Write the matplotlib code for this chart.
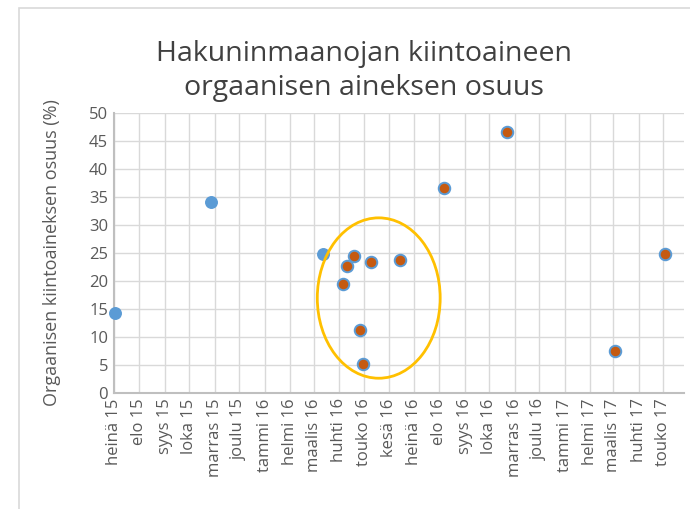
import matplotlib
matplotlib.use("Agg")
import matplotlib.pyplot as plt
import matplotlib.dates as mdates
from matplotlib.patches import Ellipse, Rectangle
import numpy as np
import datetime as dt

# --- data ---
blue_dates = ["2015-07-02", "2015-10-28", "2016-03-12"]
blue_values = [14.2, 34.1, 24.9]

orange_dates = ["2016-04-05", "2016-04-10", "2016-04-19", "2016-04-26", "2016-04-30",
                "2016-05-10", "2016-06-14", "2016-08-07", "2016-10-23", "2017-03-03",
                "2017-05-03"]
orange_values = [19.4, 22.7, 24.4, 11.2, 5.1, 23.4, 23.7, 36.7, 46.6, 7.5, 24.9]

tick_labels = ["heinä 15", "elo 15", "syys 15", "loka 15", "marras 15", "joulu 15",
               "tammi 16", "helmi 16", "maalis 16", "huhti 16", "touko 16", "kesä 16",
               "heinä 16", "elo 16", "syys 16", "loka 16", "marras 16", "joulu 16",
               "tammi 17", "helmi 17", "maalis 17", "huhti 17", "touko 17"]

title = "Hakuninmaanojan kiintoaineen\norgaanisen aineksen osuus"
ylabel = "Orgaanisen kiintoaineksen osuus (%)"

def to_num(s):
    return mdates.date2num(dt.datetime.strptime(s, "%Y-%m-%d"))

bx = [to_num(d) for d in blue_dates]
ox = [to_num(d) for d in orange_dates]

tick_pos = []
y, m = 2015, 7
for _ in tick_labels:
    tick_pos.append(mdates.date2num(dt.datetime(y, m, 1)))
    m += 1
    if m > 12:
        m = 1
        y += 1

plt.rcParams['font.family'] = ['Open Sans', 'DejaVu Sans']
TXT = "#595959"

fig = plt.figure(figsize=(6.9, 5.09), dpi=100)
# chart border
fig.patches.append(Rectangle((19/690, -0.1), 1.0, 1 - 8/509 + 0.1, transform=fig.transFigure,
                             fill=False, edgecolor="#D9D9D9", linewidth=1.2, zorder=0))

ax = fig.add_axes([113.7/690, 1 - 392.7/509, (684 - 113.7)/690, (392.7 - 113.3)/509])

ax.set_ylim(0, 50)
ax.set_yticks(np.arange(0, 51, 5))
ax.set_xticks(tick_pos)
ax.set_xticklabels(tick_labels, rotation=90)
x0 = tick_pos[0]
xr = tick_pos[-1] + (tick_pos[-1] - tick_pos[0]) / 22 * 0.83
ax.set_xlim(x0, xr)

ax.grid(True, color="#D9D9D9", linewidth=1.0)
ax.set_axisbelow(True)
for s in ["top", "right"]:
    ax.spines[s].set_visible(False)
for s in ["left", "bottom"]:
    ax.spines[s].set_color("#BFBFBF")
    ax.spines[s].set_linewidth(1.5)
ax.tick_params(length=0, labelsize=12, colors=TXT, pad=4)
for lab in ax.get_xticklabels():
    lab.set_fontsize(12)

ax.plot(bx, blue_values, linestyle="none", marker="o", markersize=8.3,
        color="#5B9BD5", markeredgecolor="#5B9BD5", zorder=3, clip_on=False)
ax.plot(ox, orange_values, linestyle="none", marker="o", markersize=8.3,
        color="#C55A11", markeredgecolor="#5B9BD5", markeredgewidth=1.4, zorder=4, clip_on=False)

# highlight ellipse (annotation)
mpd = (tick_pos[-1] - tick_pos[0]) / 22
ell = Ellipse((x0 + 10.61 * mpd, 16.94), width=4.92 * mpd, height=28.7,
              fill=False, edgecolor="#FFC000", linewidth=2.0, zorder=5)
ax.add_patch(ell)

ax.set_ylabel(ylabel, fontsize=13, color=TXT, labelpad=20)
fig.text(0.527, 1 - 71/509, title, ha="center", va="center", fontsize=20.5,
         color="#404040", fontweight="normal", linespacing=1.25)

fig.savefig("out.png", dpi=100)
